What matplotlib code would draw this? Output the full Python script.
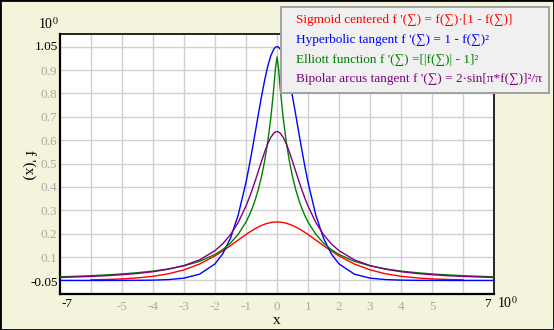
import numpy as np
import matplotlib
matplotlib.use('Agg')
import matplotlib.pyplot as plt
from matplotlib.patches import Rectangle

plt.rcParams['font.family'] = ['Liberation Serif', 'DejaVu Serif']
plt.rcParams['mathtext.fontset'] = 'stix'

nan = float('nan')

x = [-7, -6.5, -6, -5.5, -5, -4.5, -4, -3.5, -3, -2.5, -2, -1.75, -1.5, -1.25,
     -1, -0.9, -0.8, -0.7, -0.6, -0.5, -0.4, -0.3, -0.2, -0.1, -0.05, 0,
     0.05, 0.1, 0.2, 0.3, 0.4, 0.5, 0.6, 0.7, 0.8, 0.9, 1,
     1.25, 1.5, 1.75, 2, 2.5, 3, 3.5, 4, 4.5, 5, 5.5, 6, 6.5, 7]

sigmoid = [nan, nan, 0.0025, 0.0041, 0.0066, 0.0109, 0.0177, 0.0285, 0.0452, 0.0701,
           0.1050, 0.1262, 0.1491, 0.1731, 0.1966, 0.2055, 0.2139, 0.2217, 0.2288,
           0.2350, 0.2403, 0.2445, 0.2475, 0.2494, 0.2498, 0.25,
           0.2498, 0.2494, 0.2475, 0.2445, 0.2403, 0.2350, 0.2288, 0.2217, 0.2139,
           0.2055, 0.1966, 0.1731, 0.1491, 0.1262, 0.1050, 0.0701, 0.0452, 0.0285,
           0.0177, 0.0109, 0.0066, 0.0041, 0.0025, nan, nan]

hyperbolic = [0.0, 0.0, 0.0, 0.0001, 0.0002, 0.0005, 0.0013, 0.0036, 0.0099, 0.0266,
              0.0707, 0.1138, 0.1807, 0.2804, 0.4200, 0.4869, 0.5591, 0.6347, 0.7116,
              0.7864, 0.8556, 0.9151, 0.9610, 0.9901, 0.9975, 1.0,
              0.9975, 0.9901, 0.9610, 0.9151, 0.8556, 0.7864, 0.7116, 0.6347, 0.5591,
              0.4869, 0.4200, 0.2804, 0.1807, 0.1138, 0.0707, 0.0266, 0.0099, 0.0036,
              0.0013, 0.0005, 0.0002, 0.0001, 0.0, 0.0, 0.0]

elliott = [0.0156, 0.0178, 0.0204, 0.0237, 0.0278, 0.0331, 0.04, 0.0494, 0.0625, 0.0816,
           0.1111, 0.1322, 0.16, 0.1975, 0.25, 0.2770, 0.3086, 0.3460, 0.3906,
           0.4444, 0.5102, 0.5917, 0.6944, 0.8264, 0.9070, 0.956,
           0.9070, 0.8264, 0.6944, 0.5917, 0.5102, 0.4444, 0.3906, 0.3460, 0.3086,
           0.2770, 0.25, 0.1975, 0.16, 0.1322, 0.1111, 0.0816, 0.0625, 0.0494,
           0.04, 0.0331, 0.0278, 0.0237, 0.0204, 0.0178, 0.0156]

bipolar = [0.0127, 0.0148, 0.0172, 0.0203, 0.0245, 0.0299, 0.0374, 0.0481, 0.0637, 0.0878,
           0.1273, 0.1568, 0.1959, 0.2484, 0.3183, 0.3517, 0.3882, 0.4272, 0.4681,
           0.5093, 0.5488, 0.5840, 0.6121, 0.6303, 0.6350, 0.6366,
           0.6350, 0.6303, 0.6121, 0.5840, 0.5488, 0.5093, 0.4681, 0.4272, 0.3882,
           0.3517, 0.3183, 0.2484, 0.1959, 0.1568, 0.1273, 0.0878, 0.0637, 0.0481,
           0.0374, 0.0299, 0.0245, 0.0203, 0.0172, 0.0148, 0.0127]

labels = ["Sigmoid centered f '(\u2211) = f(\u2211)\u00b7[1 - f(\u2211)]",
          "Hyperbolic tangent f '(\u2211) = 1 - f(\u2211)\u00b2",
          "Elliott function f '(\u2211) =[|f(\u2211)| - 1]\u00b2",
          "Bipolar arcus tangent f '(\u2211) = 2\u00b7sin[\u03c0*f(\u2211)]\u00b2/\u03c0"]
colors = ['#FF0000', '#0000FF', '#008000', '#800080']

x_ticks = [-5, -4, -3, -2, -1, 0, 1, 2, 3, 4, 5]
y_ticks = [0.1, 0.2, 0.3, 0.4, 0.5, 0.6, 0.7, 0.8, 0.9]

bg = '#F4F3DC'
grey = '#ABABAB'

fig = plt.figure(figsize=(5.54, 3.30), dpi=100, facecolor=bg)
ax = fig.add_axes([60 / 554, 36 / 330, 434 / 554, 260 / 330])
ax.set_facecolor('white')

lines = []
for ys, c in zip([sigmoid, hyperbolic, elliott, bipolar], colors):
    ln, = ax.plot(x, ys, color=c, lw=1.0, zorder=3)
    lines.append(ln)

ax.set_xlim(-7, 7)
ax.set_ylim(-0.058, 1.054)

# grid
for gx in range(-6, 7):
    ax.axvline(gx, color='#D0D0D0', lw=1.0, zorder=1)
for gy in np.arange(0, 1.01, 0.1):
    ax.axhline(gy, color='#D0D0D0', lw=1.0, zorder=1)

ax.set_xticks(x_ticks)
ax.set_xticklabels([str(t) for t in x_ticks])
ax.set_yticks(y_ticks)
ax.set_yticklabels(['%g' % t for t in y_ticks])
ax.tick_params(length=0, labelsize=9.5, labelcolor=grey)
ax.tick_params(axis='x', pad=5)
ax.tick_params(axis='y', pad=2)

for side, w in [('left', 1.6), ('bottom', 1.6), ('top', 1.2), ('right', 1.2)]:
    ax.spines[side].set_color('black')
    ax.spines[side].set_linewidth(w)

# end labels in black
fig.text(67 / 554, 1 - 304 / 330, '-7', ha='center', va='center', fontsize=9.5)
fig.text(487 / 554, 1 - 304 / 330, '7', ha='center', va='center', fontsize=9.5)
fig.text(58 / 554, 1 - 47 / 330, '1.05', ha='right', va='center', fontsize=9.5)
fig.text(58 / 554, 1 - 283 / 330, '-0.05', ha='right', va='center', fontsize=9.5)
fig.text(38 / 554, 1 - 24 / 330, '10$^{0}$', ha='left', va='center', fontsize=10)
fig.text(497 / 554, 1 - 303 / 330, '10$^{0}$', ha='left', va='center', fontsize=10)

fig.text(277 / 554, 1 - 320 / 330, 'x', ha='center', va='center', fontsize=11)
fig.text(29 / 554, 1 - 165 / 330, "f '(x)", ha='center', va='center',
         rotation=-90, fontsize=11)

leg = ax.legend(lines, labels, loc='upper right',
                bbox_to_anchor=(549 / 554, 1 - 7 / 330),
                bbox_transform=fig.transFigure,
                handlelength=0, handletextpad=0.6, labelcolor=colors,
                fontsize=9.5, frameon=True, fancybox=False, framealpha=1,
                borderpad=0.55, labelspacing=0.56, borderaxespad=0)
leg.get_frame().set_facecolor('#F0F0F0')
leg.get_frame().set_edgecolor('#A0A0A0')
leg.get_frame().set_linewidth(1.4)
for h in leg.legend_handles:
    h.set_visible(False)

# figure border
fig.patches.append(Rectangle((0, 0), 1, 1, transform=fig.transFigure,
                             fill=False, edgecolor='black', lw=2))

fig.savefig('out.png', dpi=100, facecolor=bg)
